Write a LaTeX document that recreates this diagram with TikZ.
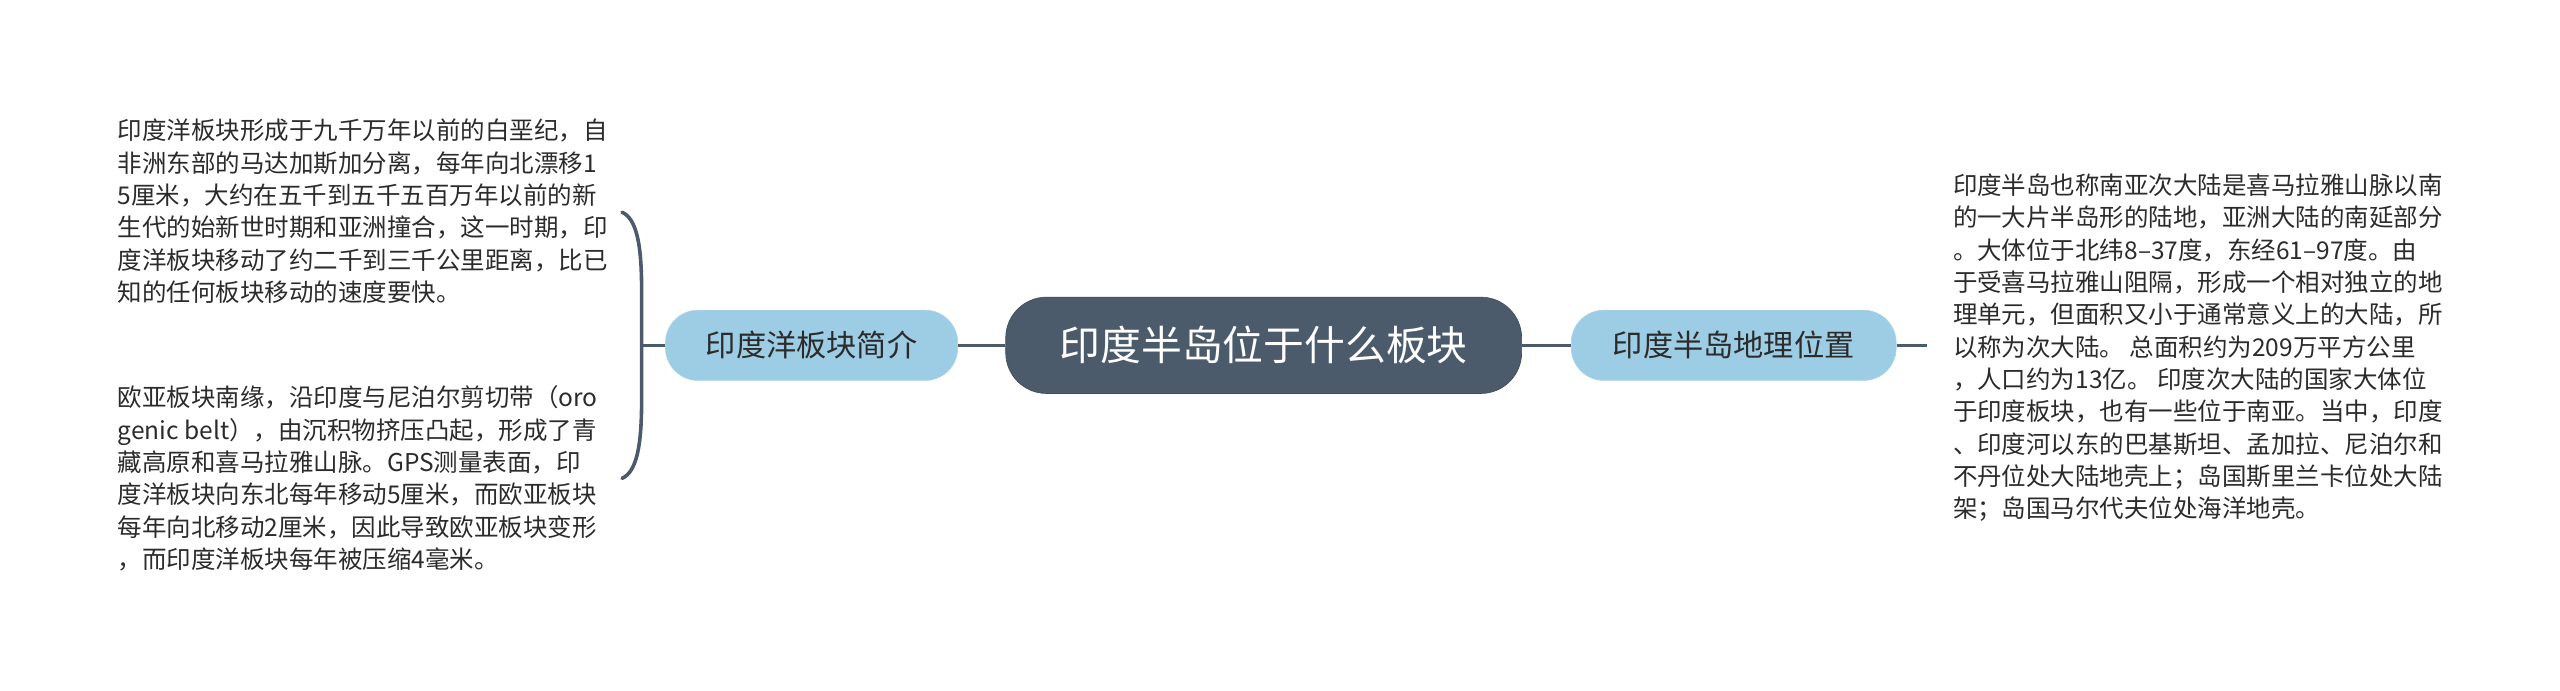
\documentclass[tikz,border=0pt]{standalone}
\usepackage{fontspec}
\setmainfont{Noto Sans CJK SC}
\usepackage{xcolor}
\usetikzlibrary{positioning}

\definecolor{slate}{HTML}{4B5B6B}
\definecolor{skyfill}{HTML}{9CCDE4}
\definecolor{bodytext}{HTML}{2B2B2B}

\begin{document}
\begin{tikzpicture}[
  x=1pt, y=1pt,
  node distance=29pt,
  root/.style={draw=slate!85!black, fill=slate, text=white, rounded corners=25pt,
               minimum width=316pt, minimum height=59pt,
               font=\fontsize{25}{30}\selectfont},
  branch/.style={draw=skyfill!85!white, fill=skyfill, text=bodytext,
                 rounded corners=20pt, minimum height=43pt,
                 font=\fontsize{18.5}{22}\selectfont},
  leaf/.style={inner sep=0pt, align=left, text=bodytext,
               font=\fontsize{15}{19.8}\selectfont},
  link/.style={draw=slate, line width=2.2pt}
]
\useasboundingbox (0,0) rectangle (1568,-423);

\node[root] (root) at (774,-211.5) {印度半岛位于什么板块};

\node[branch, minimum width=179pt, left=of root] (ocean) {印度洋板块简介};
\node[branch, minimum width=199pt, right=30pt of root] (geo) {印度半岛地理位置};

\draw[link] (root) -- (ocean);
\draw[link] (root) -- (geo);

% left leaves
\node[leaf, anchor=west] (oceanA) at (72,-129.5)
  {印度洋板块形成于九千万年以前的白垩纪，自\\
   非洲东部的马达加斯加分离，每年向北漂移1\\
   5厘米，大约在五千到五千五百万年以前的新\\
   生代的始新世时期和亚洲撞合，这一时期，印\\
   度洋板块移动了约二千到三千公里距离，比已\\
   知的任何板块移动的速度要快。};
\node[leaf, anchor=west] (oceanB) at (72,-293)
  {欧亚板块南缘，沿印度与尼泊尔剪切带（oro\\
   genic belt），由沉积物挤压凸起，形成了青\\
   藏高原和喜马拉雅山脉。GPS测量表面，印\\
   度洋板块向东北每年移动5厘米，而欧亚板块\\
   每年向北移动2厘米，因此导致欧亚板块变形\\
   ，而印度洋板块每年被压缩4毫米。};

\coordinate (brace) at (393,-211.5);
\coordinate (braceTop) at (381,-130);
\coordinate (braceBot) at (381,-293);
\draw[link] (ocean) -- (brace);
\draw[link, line cap=round] (braceTop) .. controls (390,-134) and (393,-150) .. (393,-178)
  -- (393,-245) .. controls (393,-273) and (390,-289) .. (braceBot);

% right leaf
\node[leaf, anchor=west] (geoText) at (1196,-213)
  {印度半岛也称南亚次大陆是喜马拉雅山脉以南\\
   的一大片半岛形的陆地，亚洲大陆的南延部分\\
   。大体位于北纬8–37度，东经61–97度。由\\
   于受喜马拉雅山阻隔，形成一个相对独立的地\\
   理单元，但面积又小于通常意义上的大陆，所\\
   以称为次大陆。 总面积约为209万平方公里\\
   ，人口约为13亿。 印度次大陆的国家大体位\\
   于印度板块，也有一些位于南亚。当中，印度\\
   、印度河以东的巴基斯坦、孟加拉、尼泊尔和\\
   不丹位处大陆地壳上；岛国斯里兰卡位处大陆\\
   架；岛国马尔代夫位处海洋地壳。};

\draw[link, shorten >=16pt] (geo) -- (geoText.west |- geo);

\end{tikzpicture}
\end{document}
